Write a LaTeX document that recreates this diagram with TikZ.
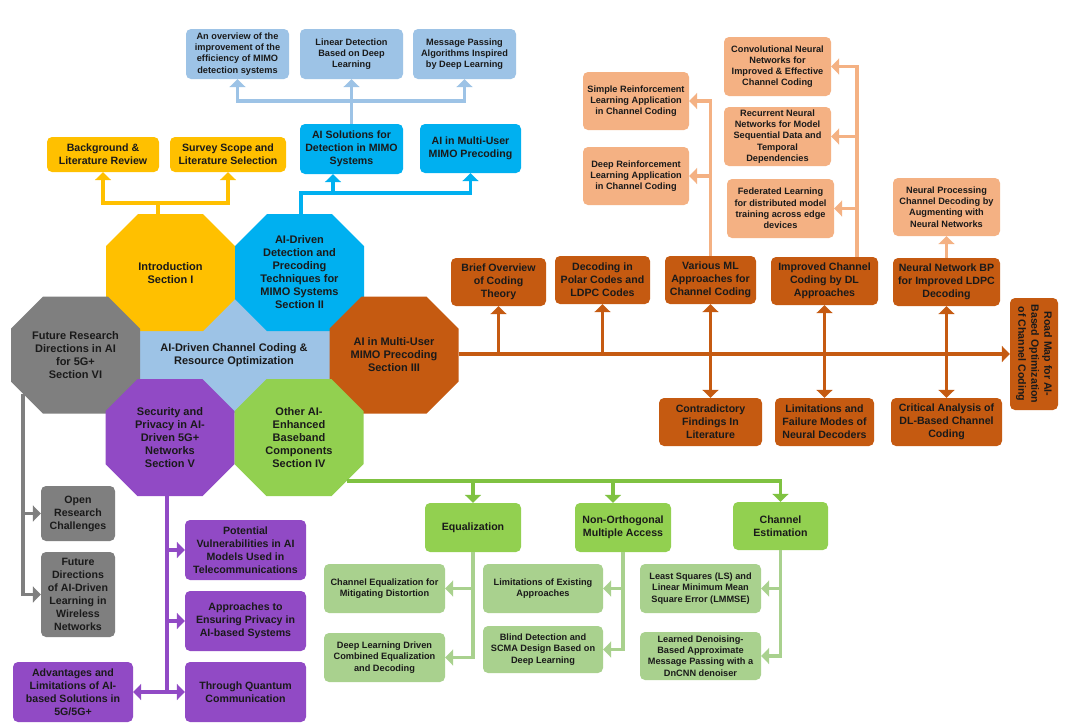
\documentclass[tikz,border=0pt]{standalone}
\usepackage{fontspec}
\setmainfont{Liberation Sans}
\usetikzlibrary{arrows.meta,calc}
\definecolor{cYel}{HTML}{FFC000}
\definecolor{cBlue}{HTML}{00B0F0}
\definecolor{cLB}{HTML}{9DC3E6}
\definecolor{cOr}{HTML}{C55A11}
\definecolor{cLO}{HTML}{F4B183}
\definecolor{cGreen}{HTML}{92D050}
\definecolor{cGL}{HTML}{7FC241}
\definecolor{cLG}{HTML}{A9D18E}
\definecolor{cGray}{HTML}{7F7F7F}
\definecolor{cPur}{HTML}{914AC5}
\definecolor{cTxt}{HTML}{1A1A1A}
\tikzset{
  mainbox/.style={rounded corners=5pt, inner sep=1pt, align=center, text=cTxt,
    font=\fontsize{10.6}{13}\selectfont\bfseries},
  subbox/.style={mainbox, font=\fontsize{9.2}{11.2}\selectfont\bfseries},
  octtext/.style={align=center, text=cTxt, font=\fontsize{11}{13}\selectfont\bfseries},
  conn/.style={line width=3.6pt},
  tip/.style={-{Triangle[width=16pt,length=8pt]}},
  dtip/.style={{Triangle[width=16pt,length=8pt]}-{Triangle[width=16pt,length=8pt]}},
}
\newcommand\rbox[8]{\node[#1, fill=#2, minimum width={(#5-#3)*1pt}, minimum height={(#6-#4)*1pt}] (#7) at ({(#3+#5)/2},{(#4+#6)/2}) {#8};}
\newcommand\octo[3]{\fill[#3, shift={(#1,#2)}] (-32.5,-58.5) -- (32.5,-58.5) -- (64.5,-26.5) -- (64.5,26.5) -- (32.5,58.5) -- (-32.5,58.5) -- (-64.5,26.5) -- (-64.5,-26.5) -- cycle;}
\begin{document}
\begin{tikzpicture}[x=1pt,y=-1pt]
\fill[white] (0,0) rectangle (1069,726);
\useasboundingbox (0,0) rectangle (1069,726);

% central hub
\fill[cLB] (140,297) rectangle (329.5,413);
\octo{170.5}{272.5}{cYel}
\octo{299.5}{272.5}{cBlue}
\octo{75.5}{355}{cGray}
\octo{394}{355}{cOr}
\octo{170}{437.5}{cPur}
\octo{299}{437.5}{cGreen}
\node[octtext] (hub) at (234,355) {AI-Driven Channel Coding \&\\Resource Optimization};
\node[octtext] (intro) at (170.5,273) {Introduction\\Section I};
\node[octtext] (secII) at (299.5,272.5) {AI-Driven\\Detection and\\Precoding\\Techniques for\\MIMO Systems\\Section II};
\node[octtext] (secVI) at (75.5,355.5) {Future Research\\Directions in AI\\for 5G+\\Section VI};
\node[octtext] (secIII) at (394,355) {AI in Multi-User\\MIMO Precoding\\Section III};
\node[octtext] (secV) at (170,438) {Security and\\Privacy in AI-\\Driven 5G+\\Networks\\Section V};
\node[octtext] (secIV) at (299,438) {Other AI-\\Enhanced\\Baseband\\Components\\Section IV};

% yellow
\rbox{mainbox}{cYel}{47}{137}{159}{172}{bg}{Background \&\\Literature Review}
\rbox{mainbox}{cYel}{170}{137}{286}{172}{survey}{Survey Scope and\\Literature Selection}
% blue
\rbox{mainbox}{cBlue}{300}{124}{403}{174}{sol}{AI Solutions for\\Detection in MIMO\\Systems}
\rbox{mainbox}{cBlue}{420}{124}{521}{173}{multi}{AI in Multi-User\\MIMO Precoding}
\rbox{subbox}{cLB}{186}{29}{289}{79}{ovw}{An overview of the\\improvement of the\\efficiency of MIMO\\detection systems}
\rbox{subbox}{cLB}{300}{29}{403}{79}{lin}{Linear Detection\\Based on Deep\\Learning}
\rbox{subbox}{cLB}{413}{29}{516}{79}{msg}{Message Passing\\Algorithms Inspired\\by Deep Learning}
% orange
\rbox{mainbox}{cOr}{451}{258}{546}{306}{brief}{Brief Overview\\of Coding\\Theory}
\rbox{mainbox}{cOr}{555}{256}{650}{304}{polar}{Decoding in\\Polar Codes and\\LDPC Codes}
\rbox{mainbox}{cOr}{665}{256}{756}{304}{various}{Various ML\\Approaches for\\Channel Coding}
\rbox{mainbox}{cOr}{771}{257}{878}{305}{improved}{Improved Channel\\Coding by DL\\Approaches}
\rbox{mainbox}{cOr}{893}{258}{1000}{306}{nnbp}{Neural Network BP\\for Improved LDPC\\Decoding}
\rbox{mainbox}{cOr}{659}{398}{762}{446}{contra}{Contradictory\\Findings In\\Literature}
\rbox{mainbox}{cOr}{775}{398}{874}{446}{limits}{Limitations and\\Failure Modes of\\Neural Decoders}
\rbox{mainbox}{cOr}{891}{398}{1002}{446}{critical}{Critical Analysis of\\DL-Based Channel\\Coding}
\node[mainbox, fill=cOr, rotate=-90, minimum width=112pt, minimum height=48pt] (road) at (1034,354) {Road Map for AI-\\Based Optimization\\of Channel Coding};
\rbox{subbox}{cLO}{583}{72}{689}{130}{simple}{Simple Reinforcement\\Learning Application\\in Channel Coding}
\rbox{subbox}{cLO}{583}{147}{689}{205}{deeprl}{Deep Reinforcement\\Learning Application\\in Channel Coding}
\rbox{subbox}{cLO}{724}{37}{831}{96}{cnn}{Convolutional Neural\\Networks for\\Improved \& Effective\\Channel Coding}
\rbox{subbox}{cLO}{724}{107}{831}{166}{rnn}{Recurrent Neural\\Networks for Model\\Sequential Data and\\Temporal\\Dependencies}
\rbox{subbox}{cLO}{727}{179}{834}{238}{fed}{Federated Learning\\for distributed model\\training across edge\\devices}
\rbox{subbox}{cLO}{893}{178}{1000}{236}{nproc}{Neural Processing\\Channel Decoding by\\Augmenting with\\Neural Networks}
% gray
\rbox{mainbox}{cGray}{41}{486}{115}{541}{open}{Open\\Research\\Challenges}
\rbox{mainbox}{cGray}{41}{552}{115}{637}{fdir}{Future\\Directions\\of AI-Driven\\Learning in\\Wireless\\Networks}
% purple
\rbox{mainbox}{cPur}{185}{520}{306}{580}{vuln}{Potential\\Vulnerabilities in AI\\Models Used in\\Telecommunications}
\rbox{mainbox}{cPur}{185}{591}{306}{651}{priv}{Approaches to\\Ensuring Privacy in\\AI-based Systems}
\rbox{mainbox}{cPur}{185}{662}{306}{722}{quant}{Through Quantum\\Communication}
\rbox{mainbox}{cPur}{13}{662}{133}{722}{adv}{Advantages and\\Limitations of AI-\\based Solutions in\\5G/5G+}
% green
\rbox{mainbox}{cGreen}{425}{503}{521}{552}{equal}{Equalization}
\rbox{mainbox}{cGreen}{575}{503}{671}{552}{noma}{Non-Orthogonal\\Multiple Access}
\rbox{mainbox}{cGreen}{733}{502}{828}{550}{ce}{Channel\\Estimation}
\rbox{subbox}{cLG}{324}{564}{445}{613}{cheq}{Channel Equalization for\\Mitigating Distortion}
\rbox{subbox}{cLG}{324}{633}{445}{682}{dlce}{Deep Learning Driven\\Combined Equalization\\and Decoding}
\rbox{subbox}{cLG}{483}{564}{603}{613}{limex}{Limitations of Existing\\Approaches}
\rbox{subbox}{cLG}{483}{626}{603}{673}{blind}{Blind Detection and\\SCMA Design Based on\\Deep Learning}
\rbox{subbox}{cLG}{640}{564}{761}{613}{ls}{Least Squares (LS) and\\Linear Minimum Mean\\Square Error (LMMSE)}
\rbox{subbox}{cLG}{640}{632}{761}{680}{ldamp}{Learned Denoising-\\Based Approximate\\Message Passing with a\\DnCNN denoiser}

% connector junctions
\coordinate (introTop) at (158,214);
\coordinate (yj) at (158,203);
\coordinate (iiTop) at (301,214);
\coordinate (bj) at (301,193);
\coordinate (bk) at (333,193);
\coordinate (lbj) at (351.5,101);
\coordinate (iiiR) at (458.5,354);
\coordinate (ij) at (857,257);
\coordinate (gB) at (23,393.5);
\coordinate (pB) at (167,496);
\coordinate (gS) at (346.5,481);
\coordinate (gN) at (613,481);

% yellow connectors
\draw[conn,cYel] (introTop) -- (yj);
\draw[conn,cYel,tip] (yj) -| (bg.south);
\draw[conn,cYel,tip] (yj) -| (survey.south);
% blue connectors
\draw[conn,cBlue,tip] (iiTop) -- (bj) -| (multi.south);
\draw[conn,cBlue,tip] (bk) -- (bk |- sol.south);
\draw[conn,cLB,tip] (sol.north) -- (lin.south);
\draw[conn,cLB,tip] (lbj) -| (ovw.south);
\draw[conn,cLB,tip] (lbj) -| (msg.south);
% orange connectors
\draw[conn,cOr,tip] (iiiR) -- (road.south);
\draw[conn,cOr,tip] (brief.south |- iiiR) -- (brief.south);
\draw[conn,cOr,tip] (polar.south |- iiiR) -- (polar.south);
\draw[conn,cOr,dtip] (various.south) -- (contra.north);
\draw[conn,cOr,dtip] (improved.south) -- (limits.north);
\draw[conn,cOr,dtip] (nnbp.south) -- (critical.north);
\draw[conn,cLO,tip] (various.north) |- (simple.east);
\draw[conn,cLO,tip] (various.north) |- (deeprl.east);
\draw[conn,cLO,tip] (ij) |- (cnn.east);
\draw[conn,cLO,tip] (ij) |- (rnn.east);
\draw[conn,cLO,tip] (ij) |- (fed.east);
\draw[conn,cLO,tip] (nnbp.north) -- (nproc.south);
% gray connectors
\draw[conn,cGray,tip] (gB) |- (open.west);
\draw[conn,cGray,tip] (gB) |- (fdir.west);
% purple connectors
\draw[conn,cPur,tip] (pB) |- (vuln.west);
\draw[conn,cPur,tip] (pB) |- (priv.west);
\draw[conn,cPur,tip] (pB) |- (quant.west);
\draw[conn,cPur,tip] (pB) |- (adv.east);
% green connectors
\draw[conn,cGL,tip] (gS) -| (equal.north);
\draw[conn,cGL,tip] (gN) -- (gN |- noma.north);
\draw[conn,cGL,tip] (gS) -| (ce.north);
\draw[conn,cLG,tip] (equal.south) |- (cheq.east);
\draw[conn,cLG,tip] (equal.south) |- (dlce.east);
\draw[conn,cLG,tip] (noma.south) |- (limex.east);
\draw[conn,cLG,tip] (noma.south) |- (blind.east);
\draw[conn,cLG,tip] (ce.south) |- (ls.east);
\draw[conn,cLG,tip] (ce.south) |- (ldamp.east);
\end{tikzpicture}
\end{document}
